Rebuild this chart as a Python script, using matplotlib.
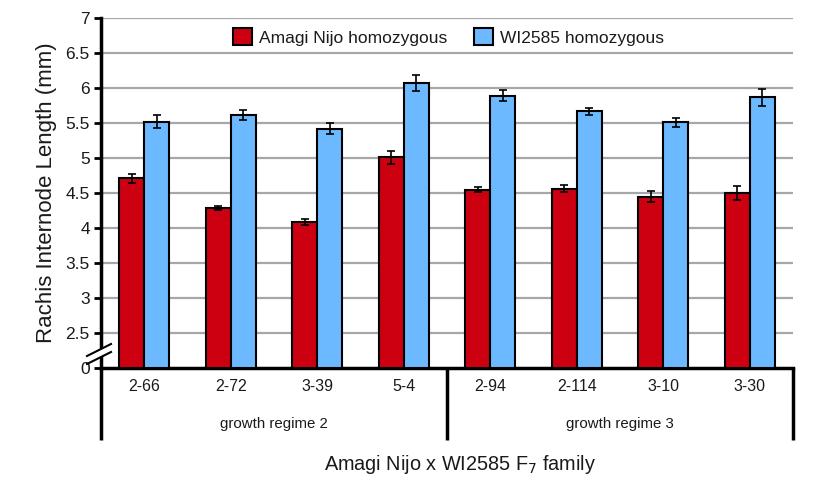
import numpy as np
import matplotlib.pyplot as plt
from matplotlib.patches import Polygon

plt.rcParams["font.family"] = ["Liberation Sans", "DejaVu Sans"]

# Rachis internode length per F7 family (mean and standard error)
families = ["2-66", "2-72", "3-39", "5-4", "2-94", "2-114", "3-10", "3-30"]
regimes = ["growth regime 2", "growth regime 3"]
amagi_mean = [4.71, 4.29, 4.09, 5.01, 4.55, 4.56, 4.45, 4.50]
amagi_err = [0.06, 0.03, 0.04, 0.09, 0.03, 0.05, 0.08, 0.10]
wi_mean = [5.52, 5.61, 5.42, 6.07, 5.89, 5.67, 5.51, 5.87]
wi_err = [0.09, 0.07, 0.08, 0.11, 0.08, 0.05, 0.06, 0.12]
ytick_labels = ["0", "2.5", "3", "3.5", "4", "4.5", "5", "5.5", "6", "6.5", "7"]

# the axis is broken: the "0" baseline sits where 2.0 would be
base = 2.0
yticks = [base] + [float(t) for t in ytick_labels[1:]]

fig = plt.figure(figsize=(8.23, 4.78), dpi=100)
ax = fig.add_axes([0.1227, 0.2301, 0.8408, 0.7322])

x = np.arange(len(families))
w = 0.29
red = "#cc0010"
blue = "#6cb9ff"
txt = "#1a1a1a"

ax.bar(x - w / 2, np.array(amagi_mean) - base, w, bottom=base, color=red,
       edgecolor="black", linewidth=1.5, label="Amagi Nijo homozygous", zorder=3)
ax.bar(x + w / 2, np.array(wi_mean) - base, w, bottom=base, color=blue,
       edgecolor="black", linewidth=1.5, label="WI2585 homozygous", zorder=3)
ax.errorbar(x - w / 2, amagi_mean, yerr=amagi_err, fmt="none", ecolor="black",
            elinewidth=1.2, capsize=3, capthick=1.2, zorder=4)
ax.errorbar(x + w / 2, wi_mean, yerr=wi_err, fmt="none", ecolor="black",
            elinewidth=1.2, capsize=3, capthick=1.2, zorder=4)

ax.set_xlim(-0.5, len(families) - 0.5)
ax.set_ylim(base, 7)
ax.set_yticks(yticks)
ax.set_yticklabels(ytick_labels, fontsize=12.5, color=txt)
ax.set_xticks([])
for t in yticks[1:]:
    ax.axhline(t, color="#a6a6ad", linewidth=1.6, zorder=1)

for s in ["top", "right"]:
    ax.spines[s].set_visible(False)
ax.spines["left"].set_linewidth(2.5)
ax.spines["bottom"].set_linewidth(2.5)
ax.tick_params(axis="y", direction="out", length=5, width=2, pad=3)

ax.set_ylabel("Rachis Internode Length (mm)", fontsize=16, labelpad=6, color=txt)

# category labels and regime brackets under the axis
for xi, name in zip(x, families):
    ax.text(xi, -0.03, name, transform=ax.get_xaxis_transform(), ha="center",
            va="top", fontsize=11.5, color=txt)
for i, name in enumerate(regimes):
    ax.text(1.5 + 4 * i, -0.14, name, transform=ax.get_xaxis_transform(),
            ha="center", va="top", fontsize=10.8, color=txt)
for xv in [-0.5, 3.5, 7.5]:
    ax.plot([xv, xv], [0, -0.206], transform=ax.get_xaxis_transform(),
            color="black", linewidth=2.5, clip_on=False, solid_capstyle="butt")

fig.text(0.559, 0.004, "Amagi Nijo x WI2585 F$_7$ family", ha="center",
         va="bottom", fontsize=14.3, color=txt)

# break marks on the value axis
pxw, pxh = 823, 478
def fx(px):
    return px / pxw
def fy(py):
    return 1 - py / pxh
gap = Polygon([(fx(96), fy(352)), (fx(106), fy(347)), (fx(106), fy(355)),
               (fx(96), fy(360))], closed=True, transform=fig.transFigure,
              facecolor="white", edgecolor="none", zorder=10)
fig.patches.append(gap)
for dy in (0, 8):
    fig.lines.append(plt.Line2D([fx(87), fx(111)], [fy(356 + dy), fy(344 + dy)],
                                transform=fig.transFigure, color="black",
                                linewidth=1.5, zorder=11))

ax.legend(loc="upper center", bbox_to_anchor=(0.502, 1.015), ncol=2, frameon=False,
          fontsize=12.5, handlelength=1.1, handleheight=1.1, columnspacing=1.5,
          handletextpad=0.4, labelcolor=txt)

fig.savefig("out.png", dpi=100)
